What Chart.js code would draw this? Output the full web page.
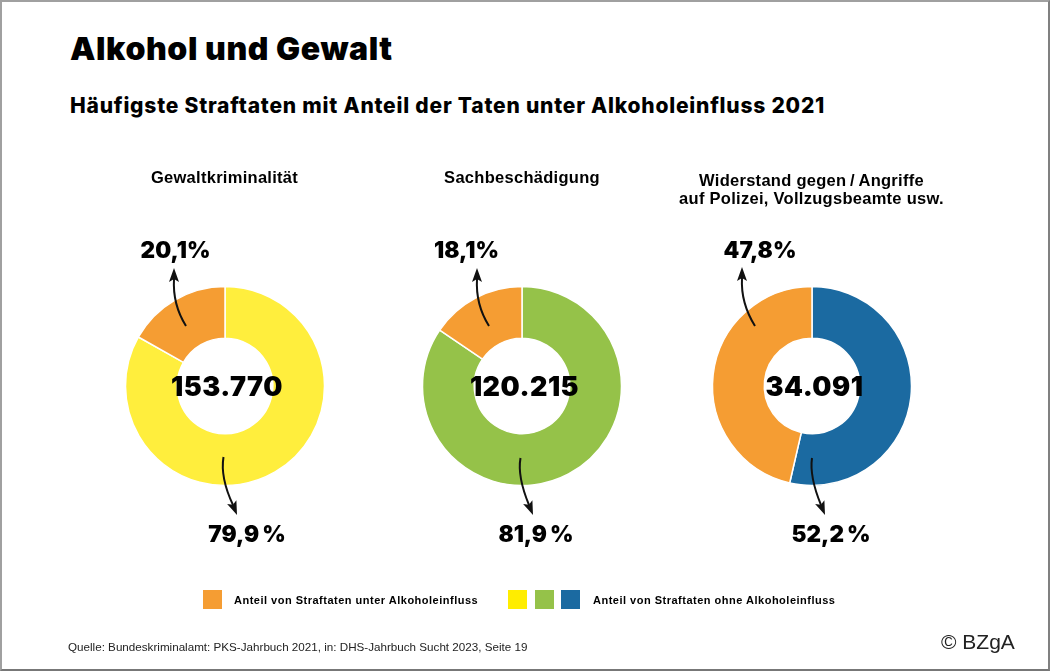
<!DOCTYPE html>
<html lang="de"><head><meta charset="utf-8">
<script src="https://cdn.jsdelivr.net/npm/chart.js@4"></script>
<style>
html,body{margin:0;padding:0;background:#fff}
#page{position:relative;width:1050px;height:671px;overflow:hidden;background:#fff;font-family:"Liberation Sans",Arial,sans-serif;color:#000}
#frame{position:absolute;inset:0;border:2px solid #a0a0a0;border-right-color:#808080;border-bottom-color:#777;box-sizing:border-box;pointer-events:none}
.t{position:absolute;white-space:nowrap;line-height:1}
.c{transform:translateX(-50%);text-align:center}
.h{font-family:Inter,"Liberation Sans",sans-serif;font-weight:900}
canvas{position:absolute}
svg{position:absolute;left:0;top:0}
.sw{position:absolute;width:19px;height:19px;top:590px}
</style></head><body>
<div id="page">
<div class="t h" style="left:70px;top:33px;font-size:32px;letter-spacing:.6px" id="title"></div>
<div class="t h" style="left:70px;top:95px;font-size:21px;font-weight:800;letter-spacing:.78px" id="subtitle"></div>
<div id="charts"></div>
<svg width="1050" height="671" id="arrows"></svg>
<div id="labels"></div>
<div class="sw" style="left:203px;background:#f59d33"></div>
<div class="sw" style="left:508px;background:#ffed00"></div>
<div class="sw" style="left:535px;background:#95c249"></div>
<div class="sw" style="left:561px;background:#1b6aa1"></div>
<div class="t" style="left:234px;top:595px;font-size:11px;font-weight:700;letter-spacing:.5px" id="leg1"></div>
<div class="t" style="left:593px;top:595px;font-size:11px;font-weight:700;letter-spacing:.5px" id="leg2"></div>
<div class="t" style="left:68px;top:641px;font-size:11.65px;color:#222" id="source"></div>
<div class="t" style="left:941px;top:631px;font-size:21px;color:#222" id="copy"></div>
<div id="frame"></div>
</div>
<script>
const titleText = "Alkohol und Gewalt";
const subtitleText = "Häufigste Straftaten mit Anteil der Taten unter Alkoholeinfluss 2021";
const categories = ["Gewaltkriminalität","Sachbeschädigung","Widerstand gegen\u2009/\u2009Angriffe\nauf Polizei, Vollzugsbeamte usw."];
const totals = ["153.770","120.215","34.091"];
const underLabels = ["20,1%","18,1%","47,8%"];
const withoutLabels = ["79,9\u2009%","81,9\u2009%","52,2\u2009%"];
const underDrawn = [16.8, 15.5, 46.4];
const withoutDrawn = [83.2, 84.5, 53.6];
const underColor = "#f59d33";
const withoutColors = ["#ffee3d","#95c249","#1b6aa1"];
const legendTexts = ["Anteil von Straftaten unter Alkoholeinfluss","Anteil von Straftaten ohne Alkoholeinfluss"];
const sourceText = "Quelle: Bundeskriminalamt: PKS-Jahrbuch 2021, in: DHS-Jahrbuch Sucht 2023, Seite 19";
const copyText = "© BZgA";

const centers = [[224.5,385.5],[522,385.5],[812,385.5]];
const catX = [224.5,522,811.5];
const catTop = [169,169,171.5];
const upPos = [[175.5,239],[466.5,239],[760,239]];
const downPos = [[247,523],[536,523],[831,523]];
const arrowUp = ["M186 326 C176 310 173 296 174 279","M489 326 C479 310 476 296 477 279","M755 326 C745 310 741 296 742 278"];
const arrowDown = ["M223.5 457 C221 472 225 488 233 505","M520.5 458 C518 472 522 488 529 505","M812 458 C810 472 814 488 821 505"];
const tipsUp = [[174,268],[477,268],[742,267]];
const tipsDown = [[237,515],[533,515],[825,515]];

document.getElementById("title").textContent = titleText;
document.getElementById("subtitle").textContent = subtitleText;
document.getElementById("leg1").textContent = legendTexts[0];
document.getElementById("leg2").textContent = legendTexts[1];
document.getElementById("source").textContent = sourceText;
document.getElementById("copy").textContent = copyText;

const S = 240;
const holder = document.getElementById("charts");
const lab = document.getElementById("labels");
function addLabel(txt,x,y,size,cls,extra){
  const d=document.createElement("div");
  d.className="t c "+cls;d.style.left=x+"px";d.style.top=y+"px";d.style.fontSize=size+"px";
  if(extra)d.style.cssText+=extra;
  d.textContent=txt;lab.appendChild(d);
}
categories.forEach((name,i)=>{
  const cv=document.createElement("canvas");
  const wrap=document.createElement("div");
  wrap.style.cssText=`position:absolute;left:${centers[i][0]-S/2}px;top:${centers[i][1]-S/2}px;width:${S}px;height:${S}px`;
  wrap.appendChild(cv);holder.appendChild(wrap);
  new Chart(cv,{type:"doughnut",
    data:{labels:legendTexts,datasets:[{
      data:[withoutDrawn[i],underDrawn[i]],
      backgroundColor:[withoutColors[i],underColor],
      borderColor:"#fff",borderWidth:1.5}]},
    options:{responsive:true,maintainAspectRatio:true,animation:false,
      radius:99.5,cutout:"48%",rotation:0,
      layout:{padding:0},
      plugins:{legend:{display:false},tooltip:{enabled:false},title:{display:false}}}
  });
  name.split("\n").forEach((ln,k)=>{
    addLabel(ln,catX[i],catTop[i]+k*18.5,16.5,"","font-weight:700;letter-spacing:.28px");
  });
  addLabel(totals[i],centers[i][0]+2.5,373,27,"h","letter-spacing:.5px");
  addLabel(underLabels[i],upPos[i][0],upPos[i][1],22.5,"h");
  addLabel(withoutLabels[i],downPos[i][0],downPos[i][1],22.5,"h");
});
const svg=document.getElementById("arrows");
function p(d){const e=document.createElementNS("http://www.w3.org/2000/svg","path");
  e.setAttribute("d",d);e.setAttribute("fill","none");e.setAttribute("stroke","#111");e.setAttribute("stroke-width","2");svg.appendChild(e);}
function h(x,y,ang){const e=document.createElementNS("http://www.w3.org/2000/svg","path");
  e.setAttribute("d","M0 0 L5 14 L0 11 L-5 14 Z");e.setAttribute("fill","#111");
  e.setAttribute("transform",`translate(${x} ${y}) rotate(${ang})`);svg.appendChild(e);}
arrowUp.forEach((d,i)=>{p(d);h(tipsUp[i][0],tipsUp[i][1],0);});
arrowDown.forEach((d,i)=>{p(d);h(tipsDown[i][0],tipsDown[i][1],158);});
</script>
</body></html>
